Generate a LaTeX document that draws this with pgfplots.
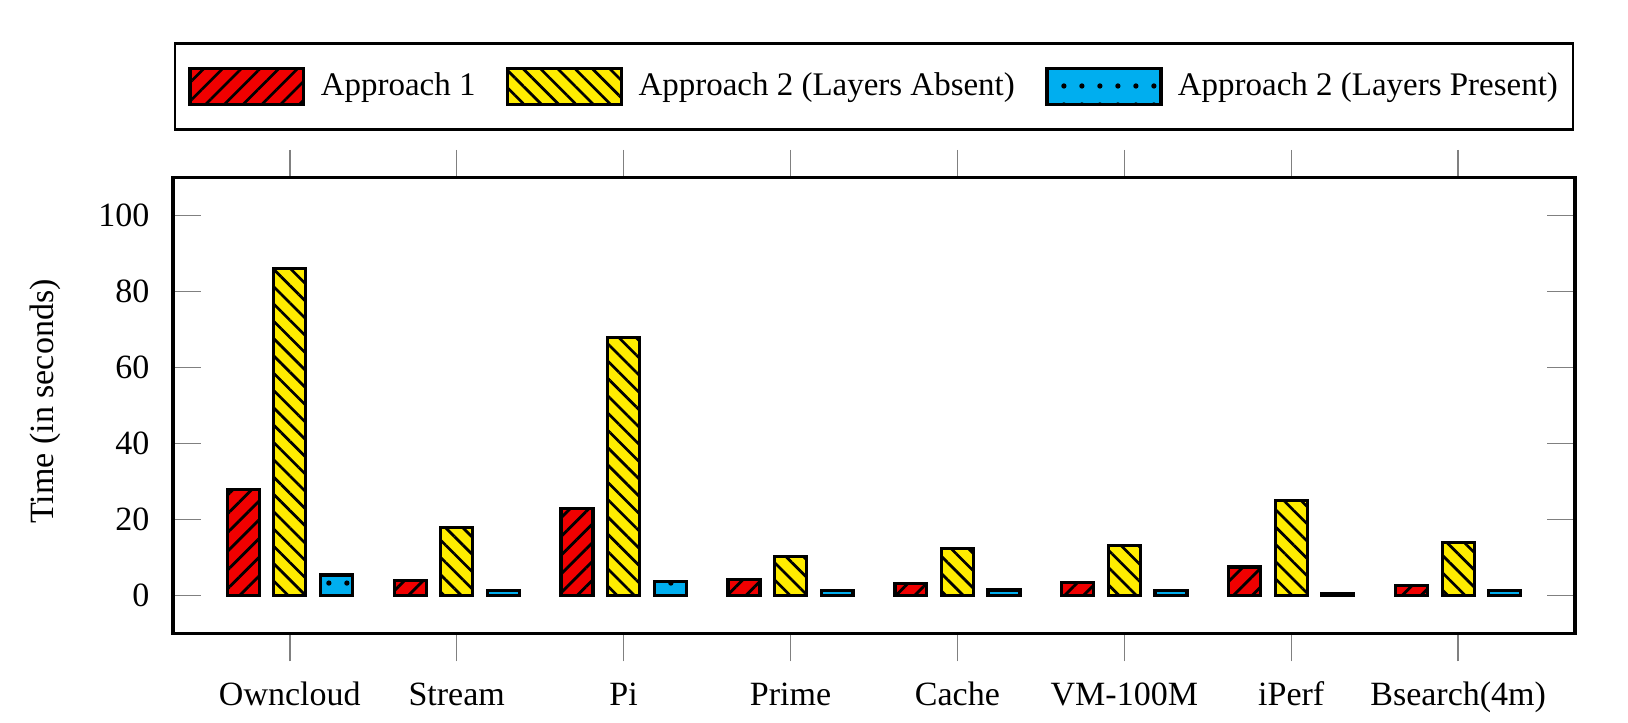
\documentclass[border=0pt]{standalone}
\usepackage{fontspec}
\setmainfont{Liberation Serif}
\usepackage{pgfplots}
\pgfplotsset{compat=1.18}
\usetikzlibrary{patterns.meta}

\definecolor{barred}{RGB}{240,0,0}
\definecolor{baryellow}{RGB}{255,236,0}
\definecolor{barblue}{RGB}{0,174,239}

\begin{document}
\begin{tikzpicture}
\begin{axis}[
  name=ax,
  width=412.4pt, height=134.1pt, scale only axis,
  xmin=-0.7, xmax=7.7, ymin=-10, ymax=110,
  xtick={0,...,7},
  xticklabels={Owncloud,Stream,Pi,Prime,Cache,VM-100M,iPerf,Bsearch(4m)},
  ytick={0,20,...,100},
  /pgf/number format/assume math mode=true,
  ybar=4.3pt, bar width=9.4pt,
  xtick align=outside, ytick align=inside,
  major tick length=8.2pt,
  tick style={gray, line width=0.45pt},
  axis line style={line width=0.9pt},
  xticklabel style={text height=7pt, text depth=2pt, yshift=-2.4pt},
  yticklabel style={xshift=-3.4pt},
  ylabel={Time (in seconds)},
  every axis y label/.style={at={(rel axis cs:0,0.509)}, xshift=-37.5pt, rotate=90, anchor=center},
  legend columns=3,
  legend cell align=left,
  legend image code/.code={\draw[#1] (0pt,-5.35pt) rectangle (33.5pt,5.35pt);},
  legend style={at={(0.5,1)}, anchor=south, yshift=13.7pt,
    draw=black, line width=0.8pt, inner xsep=3.9pt, inner ysep=6.6pt,
    font=\fontsize{9.7pt}{12pt}\selectfont,
    nodes={inner xsep=0.5pt},
    /tikz/every odd column/.append style={column sep=4pt},
    /tikz/every even column/.append style={column sep=8.5pt}},
]
\addplot[fill=barred, draw=black, line width=0.95pt,
  postaction={pattern={Lines[angle=45,distance=3.9pt,line width=0.8pt]}, pattern color=black}]
  coordinates {(0,28) (1,4) (2,23) (3,4.2) (4,3.2) (5,3.5) (6,7.5) (7,2.6)};
\addplot[fill=baryellow, draw=black, line width=0.95pt,
  postaction={pattern={Lines[angle=-45,distance=3.6pt,line width=0.8pt]}, pattern color=black}]
  coordinates {(0,86) (1,18) (2,68) (3,10.2) (4,12.3) (5,13.2) (6,25.1) (7,14)};
\addplot[fill=barblue, draw=black, line width=0.95pt,
  postaction={pattern={Dots[distance=5.4pt,radius=0.8pt,yshift=3.7pt]}, pattern color=black}]
  coordinates {(0,5.4) (1,1.4) (2,3.8) (3,1.3) (4,1.5) (5,1.4) (6,0.5) (7,1.3)};
\legend{Approach 1,Approach 2 (Layers Absent),Approach 2 (Layers Present)}
\end{axis}
\pgfresetboundingbox
\path ([shift={(-50.88pt,-26.18pt)}]ax.south west) rectangle ([shift={(15.59pt,52.26pt)}]ax.north east);
\end{tikzpicture}
\end{document}
